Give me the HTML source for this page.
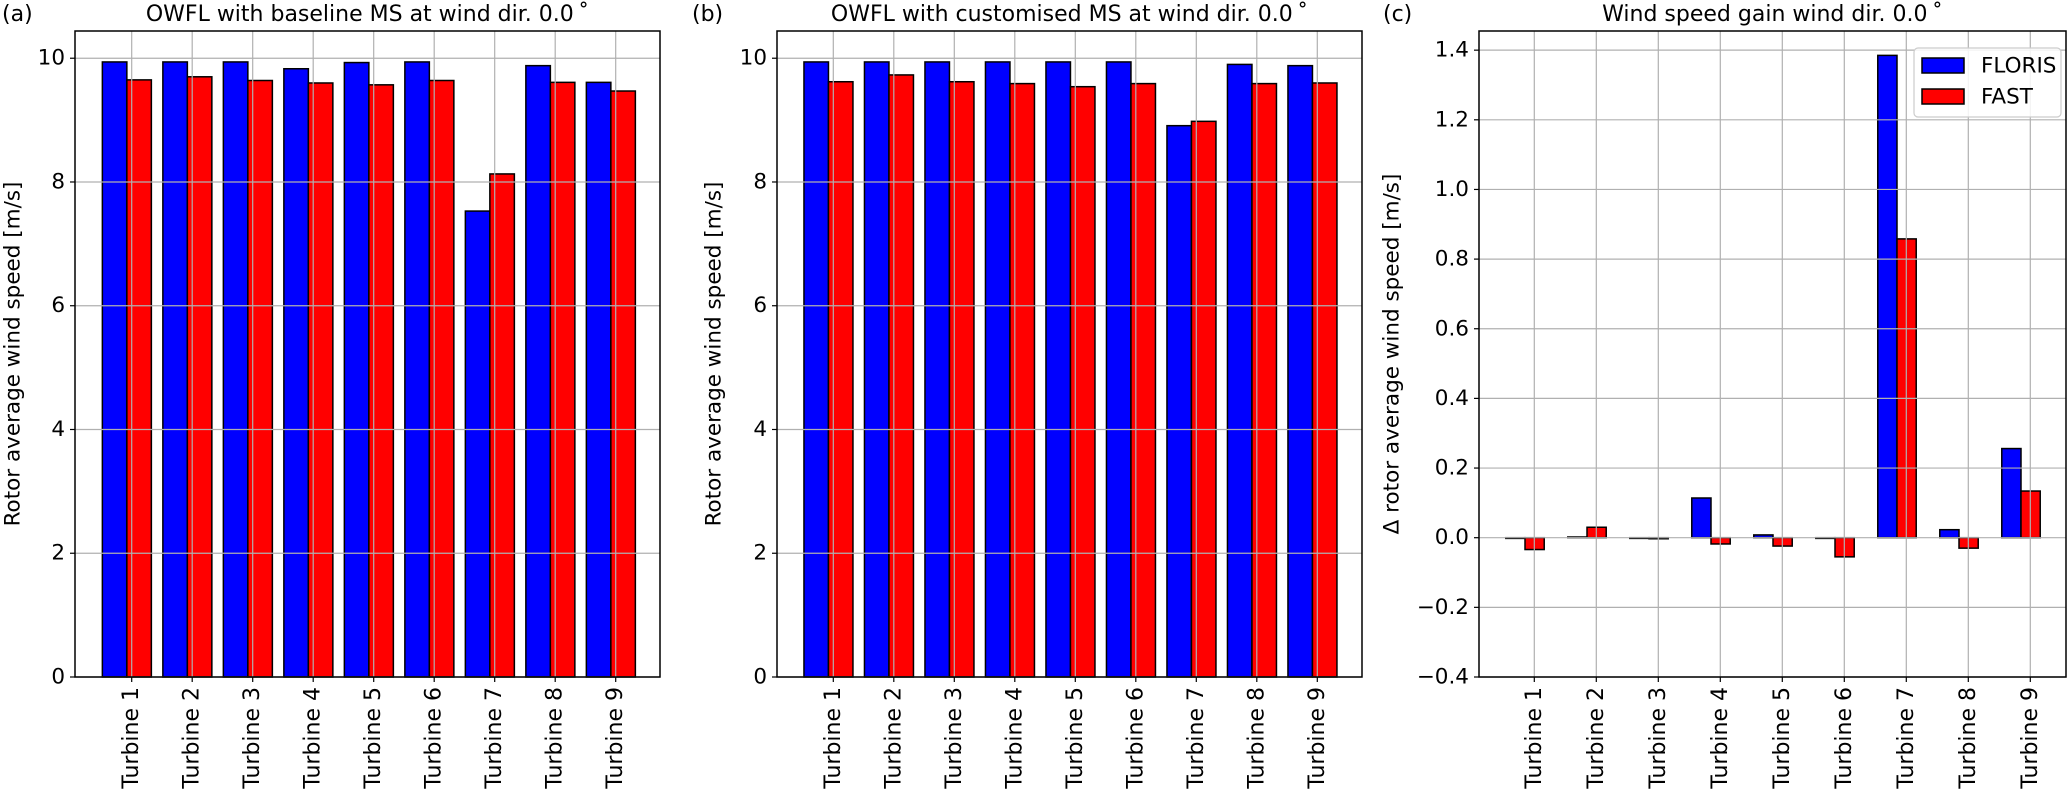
<!DOCTYPE html>
<html><head><meta charset="utf-8"><style>
html,body{margin:0;padding:0;background:#fff;}
svg{display:block;font-family:"DejaVu Sans","Liberation Sans",sans-serif;}
</style></head><body>
<svg id="fig" width="2067" height="809" viewBox="0 0 2067 809" xmlns="http://www.w3.org/2000/svg"></svg>
<script>
const categories = ["Turbine 1","Turbine 2","Turbine 3","Turbine 4","Turbine 5","Turbine 6","Turbine 7","Turbine 8","Turbine 9"];
const baselineFloris = [9.94,9.94,9.94,9.83,9.93,9.94,7.53,9.88,9.61];
const baselineFast = [9.65,9.70,9.64,9.60,9.57,9.64,8.13,9.61,9.47];
const customFloris = [9.94,9.94,9.94,9.94,9.94,9.94,8.91,9.90,9.88];
const customFast = [9.62,9.73,9.62,9.59,9.54,9.59,8.98,9.59,9.60];
const gainFloris = [-0.002,0.002,-0.002,0.114,0.008,-0.002,1.385,0.023,0.256];
const gainFast = [-0.034,0.030,-0.003,-0.018,-0.024,-0.055,0.858,-0.030,0.134];
const speedTicks = [0,2,4,6,8,10];
const speedTickLabels = ["0","2","4","6","8","10"];
const gainTicks = [-0.4,-0.2,0,0.2,0.4,0.6,0.8,1.0,1.2,1.4];
const gainTickLabels = ["\u22120.4","\u22120.2","0.0","0.2","0.4","0.6","0.8","1.0","1.2","1.4"];

const NS = "http://www.w3.org/2000/svg";
const svg = document.getElementById("fig");
function mk(tag, attrs, parent){ const e=document.createElementNS(NS,tag); for(const k in attrs) e.setAttribute(k,attrs[k]); (parent||svg).appendChild(e); return e; }

function panel(cfg){
  const g = mk("g",{});
  
  
  const top=31, bot=677;
  const yS = v => bot - (v - cfg.ymin)/(cfg.ymax - cfg.ymin)*(bot-top);
  const xS = i => cfg.tick1 + i*cfg.sp;
  mk("rect",{x:cfg.x0,y:top,width:cfg.x1-cfg.x0,height:bot-top,fill:"#fff"},g);
  // bars
  cfg.floris.forEach((v,i)=>{
    const y0=yS(0), y1=yS(v);
    const r=mk("rect",{x:xS(i)+cfg.bOff*cfg.sp,y:Math.min(y0,y1),width:cfg.bw*cfg.sp,height:Math.max(Math.abs(y0-y1),0.5),fill:"#0000ff",stroke:"#000","stroke-width":1.5},g);
    
    
  });
  cfg.fast.forEach((v,i)=>{
    const y0=yS(0), y1=yS(v);
    const r=mk("rect",{x:xS(i)+(cfg.bOff+cfg.bw)*cfg.sp,y:Math.min(y0,y1),width:cfg.bw*cfg.sp,height:Math.max(Math.abs(y0-y1),0.5),fill:"#ff0000",stroke:"#000","stroke-width":1.5},g);
    
    
  });
  // grid
  cfg.yticks.forEach((v,i)=>{
    const y=yS(v);
    mk("line",{x1:cfg.x0,x2:cfg.x1,y1:y,y2:y,stroke:"#b0b0b0","stroke-width":1.2},g);
    mk("line",{x1:cfg.x0-5,x2:cfg.x0,y1:y,y2:y,stroke:"#000","stroke-width":1.2},g);
    const t=mk("text",{x:cfg.x0-10,y:y,"text-anchor":"end","dominant-baseline":"central","font-size":21.5,fill:"#000"},g);
    t.textContent=cfg.ylabels[i];
    
    
  });
  categories.forEach((c,i)=>{
    const x=xS(i);
    mk("line",{x1:x,x2:x,y1:top,y2:bot,stroke:"#b0b0b0","stroke-width":1.2},g);
    mk("line",{x1:x,x2:x,y1:bot,y2:bot+5,stroke:"#000","stroke-width":1.2},g);
    const t=mk("text",{x:0,y:0,"text-anchor":"end","dominant-baseline":"central","font-size":22,fill:"#000",transform:`translate(${x},${bot+10}) rotate(-90)`},g);
    t.textContent=c;
    
    
  });
  mk("rect",{x:cfg.x0,y:top,width:cfg.x1-cfg.x0,height:bot-top,fill:"none",stroke:"#000","stroke-width":1.5},g);
  const yl=mk("text",{x:0,y:0,"text-anchor":"middle","dominant-baseline":"central","font-size":21.5,fill:"#000",transform:`translate(${cfg.ylx},${(top+bot)/2}) rotate(-90)`},g);
  yl.textContent=cfg.ylabel;
  
  
  const ti=mk("text",{x:(cfg.x0+cfg.x1)/2,y:21,"text-anchor":"middle","font-size":22,fill:"#000"},g);
  ti.textContent=cfg.title;
  
  
  const lb=mk("text",{x:cfg.lx,y:21,"font-size":22,fill:"#000"},g);
  lb.textContent=cfg.letter;
  
  
}

panel({name:"panel-a-baseline",x0:75,x1:660,tick1:131.7,sp:60.5,bOff:-0.485,bw:0.405,ymin:0,ymax:10.44,
  floris:baselineFloris,fast:baselineFast,yticks:speedTicks,ylabels:speedTickLabels,ylx:13,
  ylabel:"Rotor average wind speed [m/s]",title:"OWFL with baseline MS at wind dir. 0.0\u2009\u02da",letter:"(a)",lx:2});
panel({name:"panel-b-customised",x0:777,x1:1362,tick1:833.3,sp:60.5,bOff:-0.485,bw:0.405,ymin:0,ymax:10.44,
  floris:customFloris,fast:customFast,yticks:speedTicks,ylabels:speedTickLabels,ylx:714,
  ylabel:"Rotor average wind speed [m/s]",title:"OWFL with customised MS at wind dir. 0.0\u2009\u02da",letter:"(b)",lx:692});
panel({name:"panel-c-gain",x0:1479,x1:2066,tick1:1534.3,sp:62,bOff:-0.46,bw:0.31,ymin:-0.4,ymax:1.455,
  floris:gainFloris,fast:gainFast,yticks:gainTicks,ylabels:gainTickLabels,ylx:1392,
  ylabel:"\u0394 rotor average wind speed [m/s]",title:"Wind speed gain wind dir. 0.0\u2009\u02da",letter:"(c)",lx:1383});

// legend
const lg = mk("g",{});


mk("rect",{x:1914,y:48,width:147,height:69,rx:4,fill:"#fff","fill-opacity":0.85,stroke:"#cccccc","stroke-width":1.2},lg);
const e1=mk("rect",{x:1922,y:58,width:42,height:15,fill:"#0000ff",stroke:"#000","stroke-width":1.5},lg);


const e2=mk("rect",{x:1922,y:89,width:42,height:15,fill:"#ff0000",stroke:"#000","stroke-width":1.5},lg);


const t1=mk("text",{x:1981,y:66,"dominant-baseline":"central","font-size":21.5,fill:"#000"},lg); t1.textContent="FLORIS";


const t2=mk("text",{x:1981,y:97,"dominant-baseline":"central","font-size":21.5,fill:"#000"},lg); t2.textContent="FAST";


</script>
</body></html>
